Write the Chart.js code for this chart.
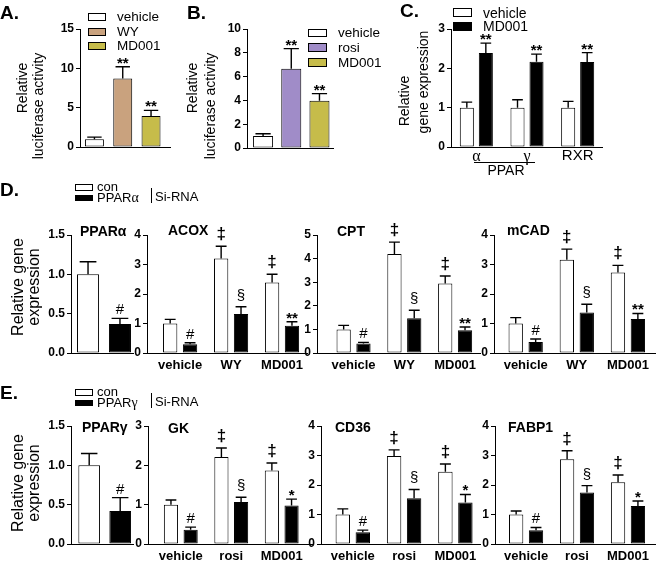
<!DOCTYPE html>
<html>
<head>
<meta charset="utf-8">
<script src="https://cdn.jsdelivr.net/npm/chart.js@4.4.1/dist/chart.umd.min.js"></script>
<style>
  body { margin: 0; background: #fff; }
  #fig { position: relative; width: 660px; height: 565px; overflow: hidden;
         font-family: 'Liberation Sans', Arial, Helvetica, sans-serif; color: #000; }
  #fig canvas { position: absolute; left: 0; top: 0; }
  .t { position: absolute; white-space: nowrap; line-height: 1; transform: translateY(-50%); }
  .c { position: absolute; white-space: nowrap; line-height: 1; transform: translate(-50%, -50%); }
  .rot { position: absolute; white-space: nowrap; line-height: 1; transform: translate(-50%, -50%) rotate(-90deg); }
  .box { position: absolute; border: 1px solid #000; box-sizing: border-box; }
  .gr { font-family: 'Liberation Serif', 'Times New Roman', serif; }
</style>
</head>
<body>
<div id="fig"></div>
<script>
const FONT = "'Liberation Sans', Arial, Helvetica, sans-serif";
const SERIF = "'Liberation Serif', 'Times New Roman', serif";

// A. luciferase activity (PPARa reporter)
const lucACats = ['vehicle', 'WY', 'MD001'];
const lucAMean = [1.0, 8.7, 3.95];
const lucASem = [0.25, 1.5, 0.7];
const lucASig = ['', '**', '**'];

// B. luciferase activity (PPARg reporter)
const lucBCats = ['vehicle', 'rosi', 'MD001'];
const lucBMean = [1.0, 6.65, 3.97];
const lucBSem = [0.2, 1.7, 0.6];
const lucBSig = ['', '**', '**'];

// C. receptor expression
const recCats = ['α', 'γ', 'RXR'];
const recVehMean = [1.0, 1.0, 1.0];
const recVehSem = [0.14, 0.2, 0.16];
const recMdMean = [2.39, 2.17, 2.16];
const recMdSem = [0.25, 0.19, 0.24];
const recMdSig = ['**', '**', '**'];

// D. PPARa si-RNA
const dCats = ['vehicle', 'WY', 'MD001'];
const pparaCon = [1.0], pparaConSem = [0.16];
const pparaSi = [0.37], pparaSiSem = [0.07], pparaSiSig = ['#'];
const acoxCon = [1.0, 3.2, 2.39], acoxConSem = [0.14, 0.42, 0.28];
const acoxSi = [0.3, 1.32, 0.92], acoxSiSem = [0.05, 0.25, 0.14];
const cptCon = [1.0, 4.19, 2.95], cptConSem = [0.17, 0.51, 0.31];
const cptSi = [0.4, 1.47, 0.96], cptSiSem = [0.05, 0.34, 0.14];
const mcadCon = [1.0, 3.16, 2.73], mcadConSem = [0.2, 0.36, 0.24];
const mcadSi = [0.375, 1.375, 1.15], mcadSiSem = [0.1, 0.28, 0.19];
const dConSig = ['', '‡', '‡'];
const dSiSig = ['#', '§', '**'];

// E. PPARg si-RNA
const eCats = ['vehicle', 'rosi', 'MD001'];
const ppargCon = [1.0], ppargConSem = [0.15];
const ppargSi = [0.42], ppargSiSem = [0.17], ppargSiSig = ['#'];
const gkCon = [1.0, 2.21, 1.87], gkConSem = [0.12, 0.23, 0.19];
const gkSi = [0.36, 1.07, 0.98], gkSiSem = [0.07, 0.12, 0.16];
const cd36Con = [1.0, 2.98, 2.45], cd36ConSem = [0.19, 0.21, 0.26];
const cd36Si = [0.4, 1.55, 1.41], cd36SiSem = [0.07, 0.3, 0.27];
const fabpCon = [1.0, 2.87, 2.09], fabpConSem = [0.12, 0.29, 0.25];
const fabpSi = [0.47, 1.75, 1.29], fabpSiSem = [0.09, 0.23, 0.17];
const eConSig = ['', '‡', '‡'];
const eSiSig = ['#', '§', '*'];

const WHITE = '#ffffff', BLACK = '#000000';
const WY_COL = '#c9a27e', MD_COL = '#c6bc4a', ROSI_COL = '#a08cc8';

// fixed room for the tick labels (labels are clipped to the scale box)
const Y_W = 40, X_H = 20;

const fig = document.getElementById('fig');

// error bars, significance marks and in-plot titles
const errorBars = {
  id: 'errorBars',
  afterDatasetsDraw(chart, args, opts) {
    const ctx = chart.ctx;
    const yScale = chart.scales.y;
    chart.data.datasets.forEach((ds, di) => {
      chart.getDatasetMeta(di).data.forEach((bar, i) => {
        const top = yScale.getPixelForValue(ds.data[i].y + ds.sem[i]);
        const cap = bar.width * 0.38;
        ctx.save();
        ctx.strokeStyle = '#000';
        ctx.lineWidth = 1.4;
        ctx.beginPath();
        ctx.moveTo(bar.x, bar.y);
        ctx.lineTo(bar.x, top);
        ctx.moveTo(bar.x - cap, top);
        ctx.lineTo(bar.x + cap, top);
        ctx.stroke();
        const mark = ds.sig ? ds.sig[i] : '';
        if (mark) {
          ctx.fillStyle = '#000';
          ctx.textAlign = 'center';
          ctx.textBaseline = 'alphabetic';
          let lift;
          if (mark[0] === '*') { ctx.font = 'bold 15px ' + FONT; lift = -1; }
          else if (mark === '#') { ctx.font = '15px ' + FONT; lift = 4; }
          else if (mark === '‡') { ctx.font = 'bold 17px ' + FONT; lift = 7; }
          else { ctx.font = '15px ' + FONT; lift = 7; }
          ctx.fillText(mark, bar.x, top - lift);
        }
        ctx.restore();
      });
    });
    if (opts.title) {
      ctx.save();
      ctx.fillStyle = '#000';
      ctx.font = 'bold 14px ' + FONT;
      ctx.textAlign = 'left';
      ctx.textBaseline = 'middle';
      ctx.fillText(opts.title, opts.tx, opts.ty);
      ctx.restore();
    }
  }
};

function makePanel(p) {
  const canvas = document.createElement('canvas');
  canvas.width = 660;
  canvas.height = 565;
  fig.appendChild(canvas);
  const n = p.series[0].mean.length;
  new Chart(canvas, {
    type: 'bar',
    data: {
      datasets: p.series.map(s => ({
        data: s.mean.map((v, i) => ({ x: i, y: v })),
        sem: s.sem,
        sig: s.sig,
        backgroundColor: s.color,
        borderColor: '#000',
        borderWidth: 1,
        borderSkipped: false
      }))
    },
    options: {
      responsive: false,
      animation: false,
      devicePixelRatio: 1,
      events: [],
      layout: { padding: { left: p.x0 - Y_W, right: 660 - p.x1, top: p.yTop, bottom: 565 - p.yBot - X_H } },
      datasets: { bar: { categoryPercentage: p.cp, barPercentage: p.bp } },
      plugins: {
        legend: { display: false },
        tooltip: { enabled: false },
        errorBars: { title: p.title, tx: p.tx, ty: p.ty }
      },
      scales: {
        x: {
          type: 'linear',
          offset: false,
          bounds: 'data',
          min: p.xMin,
          max: p.xMax,
          afterFit: s => { s.height = X_H; },
          afterBuildTicks: s => {
            s.ticks = [];
            for (let i = 0; i < n; i++) s.ticks.push({ value: i });
          },
          grid: { display: false, drawTicks: false, offset: false },
          border: { color: '#000', width: 1 },
          ticks: {
            display: !!p.cats,
            padding: p.xPad === undefined ? 5 : p.xPad,
            color: '#000',
            maxRotation: 0,
            autoSkip: false,
            font: p.xFont || { family: FONT, size: 13, weight: 'bold' },
            callback: v => (p.cats ? p.cats[v] : '')
          }
        },
        y: {
          min: 0,
          max: p.yMax,
          afterFit: s => { s.width = Y_W; },
          grid: { drawOnChartArea: false, drawTicks: true, tickLength: 4, color: '#000' },
          border: { color: '#000', width: 1 },
          ticks: {
            stepSize: p.step,
            padding: 2,
            color: '#000',
            font: { family: FONT, size: 12, weight: 'bold' },
            callback: v => (p.step < 1 ? v.toFixed(1) : String(v))
          }
        }
      }
    },
    plugins: [errorBars]
  });
}

function pair(con, conSem, si, siSem, conSig, siSig) {
  return [
    { mean: con, sem: conSem, sig: conSig, color: WHITE },
    { mean: si, sem: siSem, sig: siSig, color: BLACK }
  ];
}

const panels = [
  { x0: 80, x1: 170, yTop: 29, yBot: 147, xMin: -0.51, xMax: 2.67, yMax: 15, step: 5, cp: 1, bp: 0.67,
    series: [{ mean: lucAMean, sem: lucASem, sig: lucASig, color: [WHITE, WY_COL, MD_COL] }] },
  { x0: 247, x1: 333, yTop: 29, yBot: 148, xMin: -0.57, xMax: 2.48, yMax: 10, step: 2, cp: 1, bp: 0.71,
    series: [{ mean: lucBMean, sem: lucBSem, sig: lucBSig, color: [WHITE, ROSI_COL, MD_COL] }] },
  { x0: 451, x1: 602, yTop: 29, yBot: 147, xMin: -0.5, xMax: 2.48, yMax: 3, step: 1, cp: 0.75, bp: 0.74,
    cats: recCats, xPad: 0,
    xFont: c => (c.index < 2 ? { family: SERIF, size: 16 } : { family: FONT, size: 15 }),
    series: [
      { mean: recVehMean, sem: recVehSem, sig: null, color: WHITE },
      { mean: recMdMean, sem: recMdSem, sig: recMdSig, color: BLACK }
    ] },
  // D
  { x0: 71, x1: 133, yTop: 235, yBot: 353, xMin: -1, xMax: 0.879, yMax: 1.5, step: 0.5, cp: 1.03, bp: 0.69,
    title: 'PPARα', tx: 80, ty: 232,
    series: pair(pparaCon, pparaConSem, pparaSi, pparaSiSem, null, pparaSiSig) },
  { x0: 147, x1: 307, yTop: 235, yBot: 353, xMin: -0.65, xMax: 2.49, yMax: 4, step: 1, cp: 0.78, bp: 0.72,
    cats: dCats, title: 'ACOX', tx: 168, ty: 231,
    series: pair(acoxCon, acoxConSem, acoxSi, acoxSiSem, dConSig, dSiSig) },
  { x0: 317, x1: 480, yTop: 235, yBot: 353, xMin: -0.72, xMax: 2.49, yMax: 5, step: 1, cp: 0.78, bp: 0.72,
    cats: dCats, title: 'CPT', tx: 337, ty: 232,
    series: pair(cptCon, cptConSem, cptSi, cptSiSem, dConSig, dSiSig) },
  { x0: 494, x1: 655, yTop: 235, yBot: 353, xMin: -0.62, xMax: 2.53, yMax: 4, step: 1, cp: 0.78, bp: 0.72,
    cats: dCats, title: 'mCAD', tx: 507, ty: 231,
    series: pair(mcadCon, mcadConSem, mcadSi, mcadSiSem, dConSig, dSiSig) },
  // E
  { x0: 71, x1: 133, yTop: 426, yBot: 544, xMin: -1, xMax: 0.84, yMax: 1.5, step: 0.5, cp: 1.0, bp: 0.7,
    title: 'PPARγ', tx: 82, ty: 428,
    series: pair(ppargCon, ppargConSem, ppargSi, ppargSiSem, null, ppargSiSig) },
  { x0: 148, x1: 313, yTop: 426, yBot: 544, xMin: -0.65, xMax: 2.62, yMax: 3, step: 1, cp: 0.78, bp: 0.72,
    cats: eCats, title: 'GK', tx: 168, ty: 429,
    series: pair(gkCon, gkConSem, gkSi, gkSiSem, eConSig, eSiSig) },
  { x0: 321, x1: 480, yTop: 426, yBot: 544, xMin: -0.62, xMax: 2.48, yMax: 4, step: 1, cp: 0.78, bp: 0.72,
    cats: eCats, title: 'CD36', tx: 335, ty: 428,
    series: pair(cd36Con, cd36ConSem, cd36Si, cd36SiSem, eConSig, eSiSig) },
  { x0: 495, x1: 655, yTop: 426, yBot: 544, xMin: -0.61, xMax: 2.53, yMax: 4, step: 1, cp: 0.78, bp: 0.72,
    cats: eCats, title: 'FABP1', tx: 508, ty: 428,
    series: pair(fabpCon, fabpConSem, fabpSi, fabpSiSem, eConSig, eSiSig) }
];

panels.forEach(makePanel);

// text and legends around the plots
function txt(html, x, y, css, cls) {
  const d = document.createElement('div');
  d.className = cls || 't';
  d.innerHTML = html;
  d.style.left = x + 'px';
  d.style.top = y + 'px';
  if (css) d.style.cssText += css;
  fig.appendChild(d);
}
function box(x, y, w, h, color) {
  const d = document.createElement('div');
  d.className = 'box';
  d.style.cssText += `left:${x}px;top:${y}px;width:${w}px;height:${h}px;background:${color};`;
  fig.appendChild(d);
}

// panel letters
[['A.', 0, 12], ['B.', 187, 12], ['C.', 400, 10], ['D.', 0, 189], ['E.', 0, 392]]
  .forEach(([s, x, y]) => txt(s, x, y, 'font-size:19px;font-weight:bold;'));

// y titles
txt('Relative', 22, 88, 'font-size:14px;', 'rot');
txt('luciferase activity', 38, 106, 'font-size:14px;', 'rot');
txt('Relative', 192, 88, 'font-size:14px;', 'rot');
txt('luciferase activity', 210, 106, 'font-size:14px;', 'rot');
txt('Relative', 404, 101, 'font-size:14px;', 'rot');
txt('gene expression', 423, 82, 'font-size:14px;', 'rot');
txt('Relative gene', 18, 287, 'font-size:16px;', 'rot');
txt('expression', 34, 287, 'font-size:16px;', 'rot');
txt('Relative gene', 18, 483, 'font-size:16px;', 'rot');
txt('expression', 34, 483, 'font-size:16px;', 'rot');

// legend A
box(88, 13, 18, 8, WHITE); box(88, 28, 18, 8, WY_COL); box(88, 42, 18, 8, MD_COL);
lucACats.forEach((c, i) => txt(c, 117, [17, 32, 46][i], 'font-size:13.5px;'));
// legend B
box(308, 29, 19, 8, WHITE); box(308, 43, 19, 9, ROSI_COL); box(308, 58, 19, 9, MD_COL);
lucBCats.forEach((c, i) => txt(c, 338, [33, 47.5, 62.5][i], 'font-size:13.5px;'));
// legend C
box(453, 8, 19, 9, WHITE); box(453, 22, 19, 9, BLACK);
txt('vehicle', 483, 12.5, 'font-size:14px;');
txt('MD001', 483, 26, 'font-size:14px;');
// C group bracket
const line = document.createElement('div');
line.style.cssText = 'position:absolute;left:474px;top:162px;width:61px;height:1px;background:#000;';
fig.appendChild(line);
txt('PPAR', 506, 170, 'font-size:14px;', 'c');

// legends D and E
function siLegend(y0, greek) {
  box(75, y0, 18, 7, WHITE);
  box(75, y0 + 11, 18, 6, BLACK);
  txt('con', 97, y0 + 2, 'font-size:13px;');
  txt('PPAR<span class="gr" style="font-size:14px;">' + greek + '</span>', 97, y0 + 14, 'font-size:13px;');
  const bar = document.createElement('div');
  bar.style.cssText = `position:absolute;left:151px;top:${y0 + 4}px;width:1px;height:15px;background:#000;`;
  fig.appendChild(bar);
  txt('Si-RNA', 155, y0 + 12, 'font-size:13px;');
}
siLegend(184, 'α');
siLegend(389, 'γ');
</script>
</body>
</html>
